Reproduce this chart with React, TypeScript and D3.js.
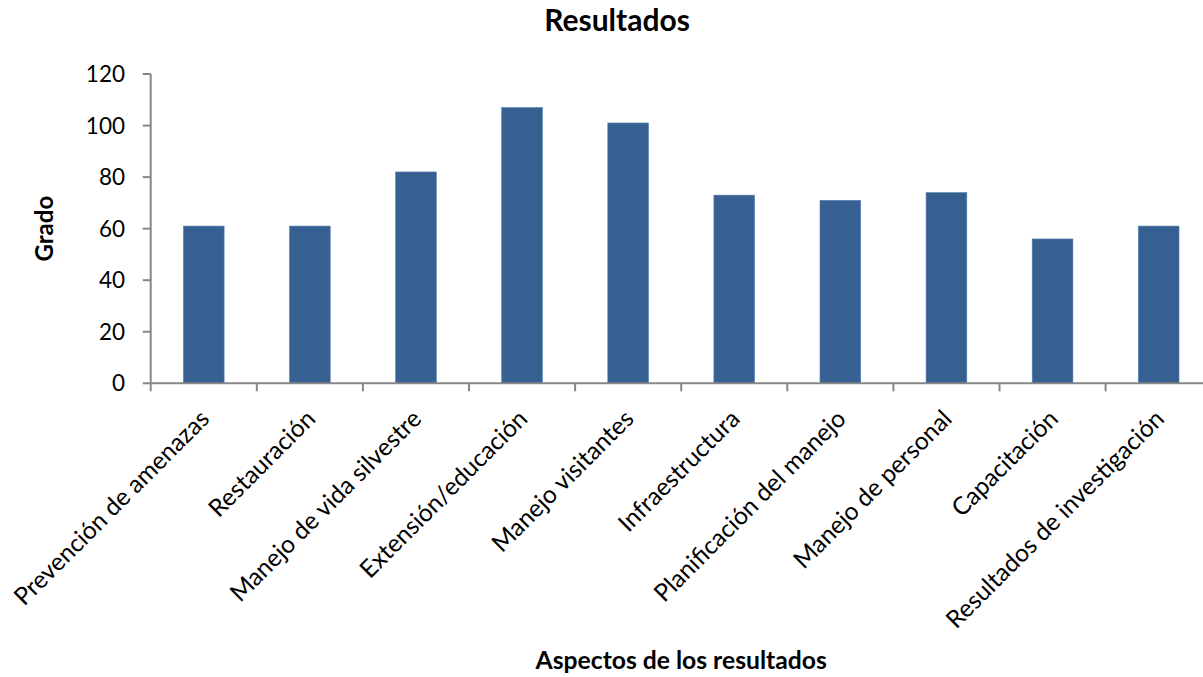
import React from "react";
import * as d3 from "d3";

const categories: string[] = [
  "Prevención de amenazas",
  "Restauración",
  "Manejo de vida silvestre",
  "Extensión/educación",
  "Manejo visitantes",
  "Infraestructura",
  "Planificación del manejo",
  "Manejo de personal",
  "Capacitación",
  "Resultados de investigación",
];
const values: number[] = [61, 61, 82, 107, 101, 73, 71, 74, 56, 61];
const yTicks: number[] = [0, 20, 40, 60, 80, 100, 120];

const title = "Resultados";
const xTitle = "Aspectos de los resultados";
const yTitle = "Grado";

const W = 1203;
const H = 677;
const FONT = "Lato, 'Open Sans', sans-serif";
const AXIS = "#868686";
const BAR = "#376092";

export default function App() {
  const left = 150.7;
  const right = left + 1061;
  const top = 74;
  const bottom = 383.3;

  const x = d3.scaleBand<string>().domain(categories).range([left, right]).paddingInner(0.616).paddingOuter(0.308);
  const xb = d3.scaleBand<string>().domain(categories).range([left, right]).padding(0);
  const y = d3.scaleLinear().domain([0, 120]).range([bottom, top]);

  return (
    <svg width={W} height={H} style={{ position: "absolute", left: 0, top: 0, background: "#fff" }}>
      <text x={617} y={31} textAnchor="middle" fontFamily={FONT} fontWeight="bold" fontSize={30} fill="#000">
        {title}
      </text>
      {values.map((v, i) => (
        <rect
          key={i}
          x={x(categories[i])!}
          y={y(v)}
          width={x.bandwidth()}
          height={y(0) - y(v)}
          fill={BAR}
          stroke="#5a7fae"
          strokeWidth={0.6}
        />
      ))}
      {/* y axis */}
      <line x1={left} x2={left} y1={top} y2={bottom} stroke={AXIS} strokeWidth={2} />
      {yTicks.map((t) => (
        <g key={t}>
          <line x1={left - 8} x2={left} y1={y(t)} y2={y(t)} stroke={AXIS} strokeWidth={2} />
          <text x={125} y={y(t)} dy="0.36em" textAnchor="end" fontFamily={FONT} fontSize={22.5} fill="#000">
            {t}
          </text>
        </g>
      ))}
      {/* x axis */}
      <line x1={left} x2={right} y1={bottom} y2={bottom} stroke={AXIS} strokeWidth={2} />
      {categories.map((c, i) => (
        <line key={"t" + i} x1={xb(c)!} x2={xb(c)!} y1={bottom} y2={bottom + 8} stroke={AXIS} strokeWidth={2} />
      ))}
      <line x1={right} x2={right} y1={bottom} y2={bottom + 8} stroke={AXIS} strokeWidth={2} />
      {categories.map((c, i) => {
        const cx = xb(c)! + xb.bandwidth() / 2 + 7;
        const cy = bottom + 37;
        return (
          <text
            key={"l" + i}
            transform={`translate(${cx},${cy}) rotate(-45)`}
            textAnchor="end"
            fontFamily={FONT}
            fontSize={24.5}
            fill="#000"
          >
            {c}
          </text>
        );
      })}
      <text x={(left + right) / 2} y={669} textAnchor="middle" fontFamily={FONT} fontWeight="bold" fontSize={24.7} fill="#000">
        {xTitle}
      </text>
      <text
        transform={`translate(53,${(top + bottom) / 2}) rotate(-90)`}
        textAnchor="middle"
        fontFamily={FONT}
        fontWeight="bold"
        fontSize={24}
        fill="#000"
      >
        {yTitle}
      </text>
    </svg>
  );
}
